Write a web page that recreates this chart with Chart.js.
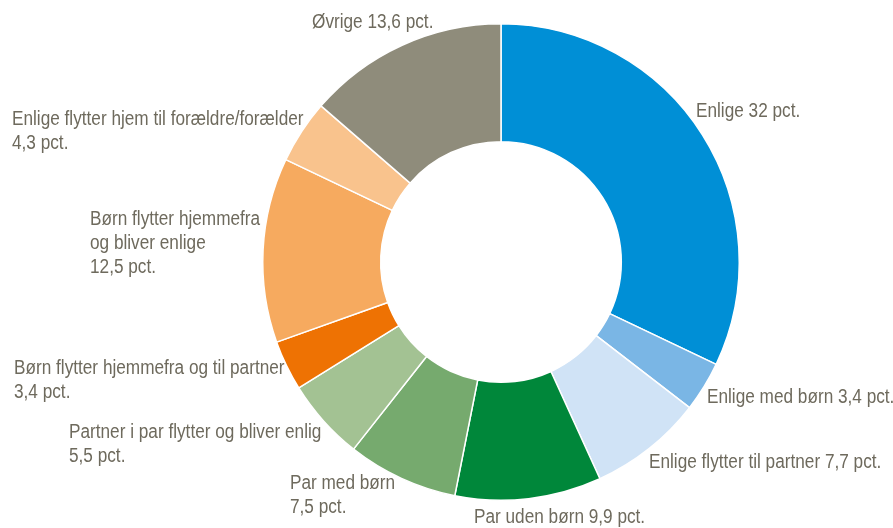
<!DOCTYPE html>
<html>
<head>
<meta charset="utf-8">
<script src="https://cdn.jsdelivr.net/npm/chart.js@4.4.1/dist/chart.umd.min.js"></script>
<style>
html,body{margin:0;padding:0;background:#fff;}
#wrap{width:893px;height:528px;position:relative;}
</style>
</head>
<body>
<div id="wrap"><canvas id="c" width="893" height="528"></canvas></div>
<script>
// ---- data ----
const categories = [
  "Enlige",
  "Enlige med børn",
  "Enlige flytter til partner",
  "Par uden børn",
  "Par med børn",
  "Partner i par flytter og bliver enlig",
  "Børn flytter hjemmefra og til partner",
  "Børn flytter hjemmefra og bliver enlige",
  "Enlige flytter hjem til forældre/forælder",
  "Øvrige"
];
const values = [32, 3.4, 7.7, 9.9, 7.5, 5.5, 3.4, 12.5, 4.3, 13.6];
const labelLines = [
  ["Enlige 32 pct."],
  ["Enlige med børn 3,4 pct."],
  ["Enlige flytter til partner 7,7 pct."],
  ["Par uden børn 9,9 pct."],
  ["Par med børn", "7,5 pct."],
  ["Partner i par flytter og bliver enlig", "5,5 pct."],
  ["Børn flytter hjemmefra og til partner", "3,4 pct."],
  ["Børn flytter hjemmefra", "og bliver enlige", "12,5 pct."],
  ["Enlige flytter hjem til forældre/forælder", "4,3 pct."],
  ["Øvrige 13,6 pct."]
];

// ---- styles / layout ----
const colors = ["#008FD6","#7AB6E5","#D0E3F6","#00873A","#76AA6E","#A3C293","#EE7203","#F6AA5F","#F9C38D","#8F8C7B"];
const textColor = "#6E6A5D";
// label anchor offsets from doughnut centre (left edge x, middle of first line y)
const labelOffsets = [
  [195,-151],[206,135],[148,200],[-27,255],[-211,221],[-432,170],[-487,106],[-411,-43],[-489,-143],[-189,-240]
];

const ctxTest = document.createElement('canvas').getContext('2d');
function hasFont(f){
  ctxTest.font = '20px monospace'; const a = ctxTest.measureText('Enlige 32 pct. abcdefg').width;
  ctxTest.font = '20px "' + f + '", monospace'; const b = ctxTest.measureText('Enlige 32 pct. abcdefg').width;
  return Math.abs(a-b) > 0.5;
}
let fontFamily, xScale;
if (hasFont('Liberation Sans Narrow')) { fontFamily = '"Liberation Sans Narrow"'; xScale = 1.05; }
else if (hasFont('Arial Narrow')) { fontFamily = '"Arial Narrow"'; xScale = 1.05; }
else { fontFamily = '"Liberation Sans", Arial, sans-serif'; xScale = 0.86; }

const labelPlugin = {
  id: 'outLabels',
  afterDatasetsDraw(chart){
    const meta = chart.getDatasetMeta(0);
    const arc = meta.data[0];
    const cx = arc.x, cy = arc.y;
    const c = chart.ctx;
    c.save();
    c.fillStyle = textColor;
    c.font = '20px ' + fontFamily;
    c.textBaseline = 'middle';
    c.textAlign = 'left';
    labelLines.forEach((lines, i) => {
      const x = cx + labelOffsets[i][0];
      const y0 = cy + labelOffsets[i][1];
      lines.forEach((t, j) => {
        c.save();
        c.translate(x, y0 + j*24);
        c.scale(xScale, 1);
        c.fillText(t, 0, 0);
        c.restore();
      });
    });
    c.restore();
  }
};

new Chart(document.getElementById('c'), {
  type: 'doughnut',
  data: {
    labels: categories,
    datasets: [{
      data: values,
      backgroundColor: colors,
      borderColor: '#ffffff',
      borderWidth: 1.5,
      hoverOffset: 0
    }]
  },
  options: {
    responsive: false,
    animation: false,
    cutout: '50.5%',
    layout: { padding: { left: 109, right: 0, top: 23, bottom: 27 } },
    plugins: { legend: { display: false }, tooltip: { enabled: false } }
  },
  plugins: [labelPlugin]
});
</script>
</body>
</html>
